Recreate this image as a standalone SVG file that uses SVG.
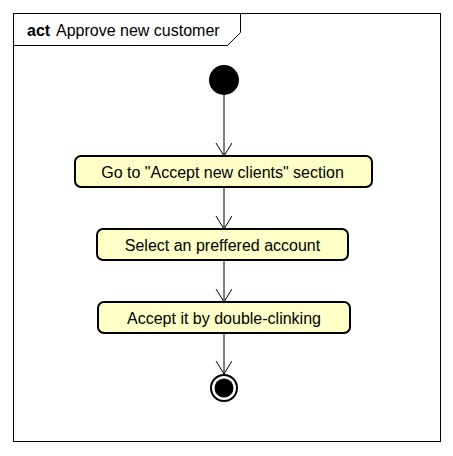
<svg xmlns="http://www.w3.org/2000/svg" width="453" height="456" viewBox="0 0 453 456">
<style>
.act{fill:#FFFFC8;stroke:#000;stroke-width:2}
.lbl{font-family:"Liberation Sans",Arial,sans-serif;font-size:16px;fill:#000;text-anchor:middle}
.edge{stroke:#000;stroke-width:1;fill:none}
</style>
<defs>
<marker id="arr" markerWidth="20" markerHeight="20" refX="14" refY="8" orient="auto" markerUnits="userSpaceOnUse">
<path d="M1,0 L14,8 L1,16" fill="none" stroke="#000" stroke-width="1"/>
</marker>
</defs>
<rect x="0" y="0" width="453" height="456" fill="#fff"/>
<g id="frame">
<rect x="13.5" y="13.5" width="427" height="428" fill="none" stroke="#000" stroke-width="1"/>
<path d="M13.5,45.5 L227.5,45.5 L240.5,32.5 L240.5,13.5" fill="none" stroke="#000" stroke-width="1"/>
<text x="27" y="36" style="font-family:'Liberation Sans',Arial,sans-serif;font-size:16px"><tspan font-weight="bold">act</tspan><tspan x="56">Approve new customer</tspan></text>
</g>
<g id="connectors">
<line class="edge" x1="224" y1="95" x2="224" y2="156" marker-end="url(#arr)"/>
<line class="edge" x1="224" y1="188" x2="224" y2="229" marker-end="url(#arr)"/>
<line class="edge" x1="224" y1="261" x2="224" y2="302" marker-end="url(#arr)"/>
<line class="edge" x1="224" y1="334" x2="224" y2="374" marker-end="url(#arr)"/>
</g>
<g id="initial">
<circle cx="224" cy="80" r="15" fill="#000"/>
</g>
<g id="node1">
<rect class="act" x="75" y="156" width="297" height="31" rx="6"/>
<text class="lbl" x="222.5" y="177.5">Go to "Accept new clients" section</text>
</g>
<g id="node2">
<rect class="act" x="97" y="229" width="251" height="31" rx="6"/>
<text class="lbl" x="222.5" y="250.5">Select an preffered account</text>
</g>
<g id="node3">
<rect class="act" x="98" y="302" width="252" height="31" rx="6"/>
<text class="lbl" x="224" y="323.5">Accept it by double-clinking</text>
</g>
<g id="final">
<circle cx="224" cy="388" r="13" fill="#fff" stroke="#000" stroke-width="2"/>
<circle cx="224" cy="388" r="9.5" fill="#000"/>
</g>
</svg>
